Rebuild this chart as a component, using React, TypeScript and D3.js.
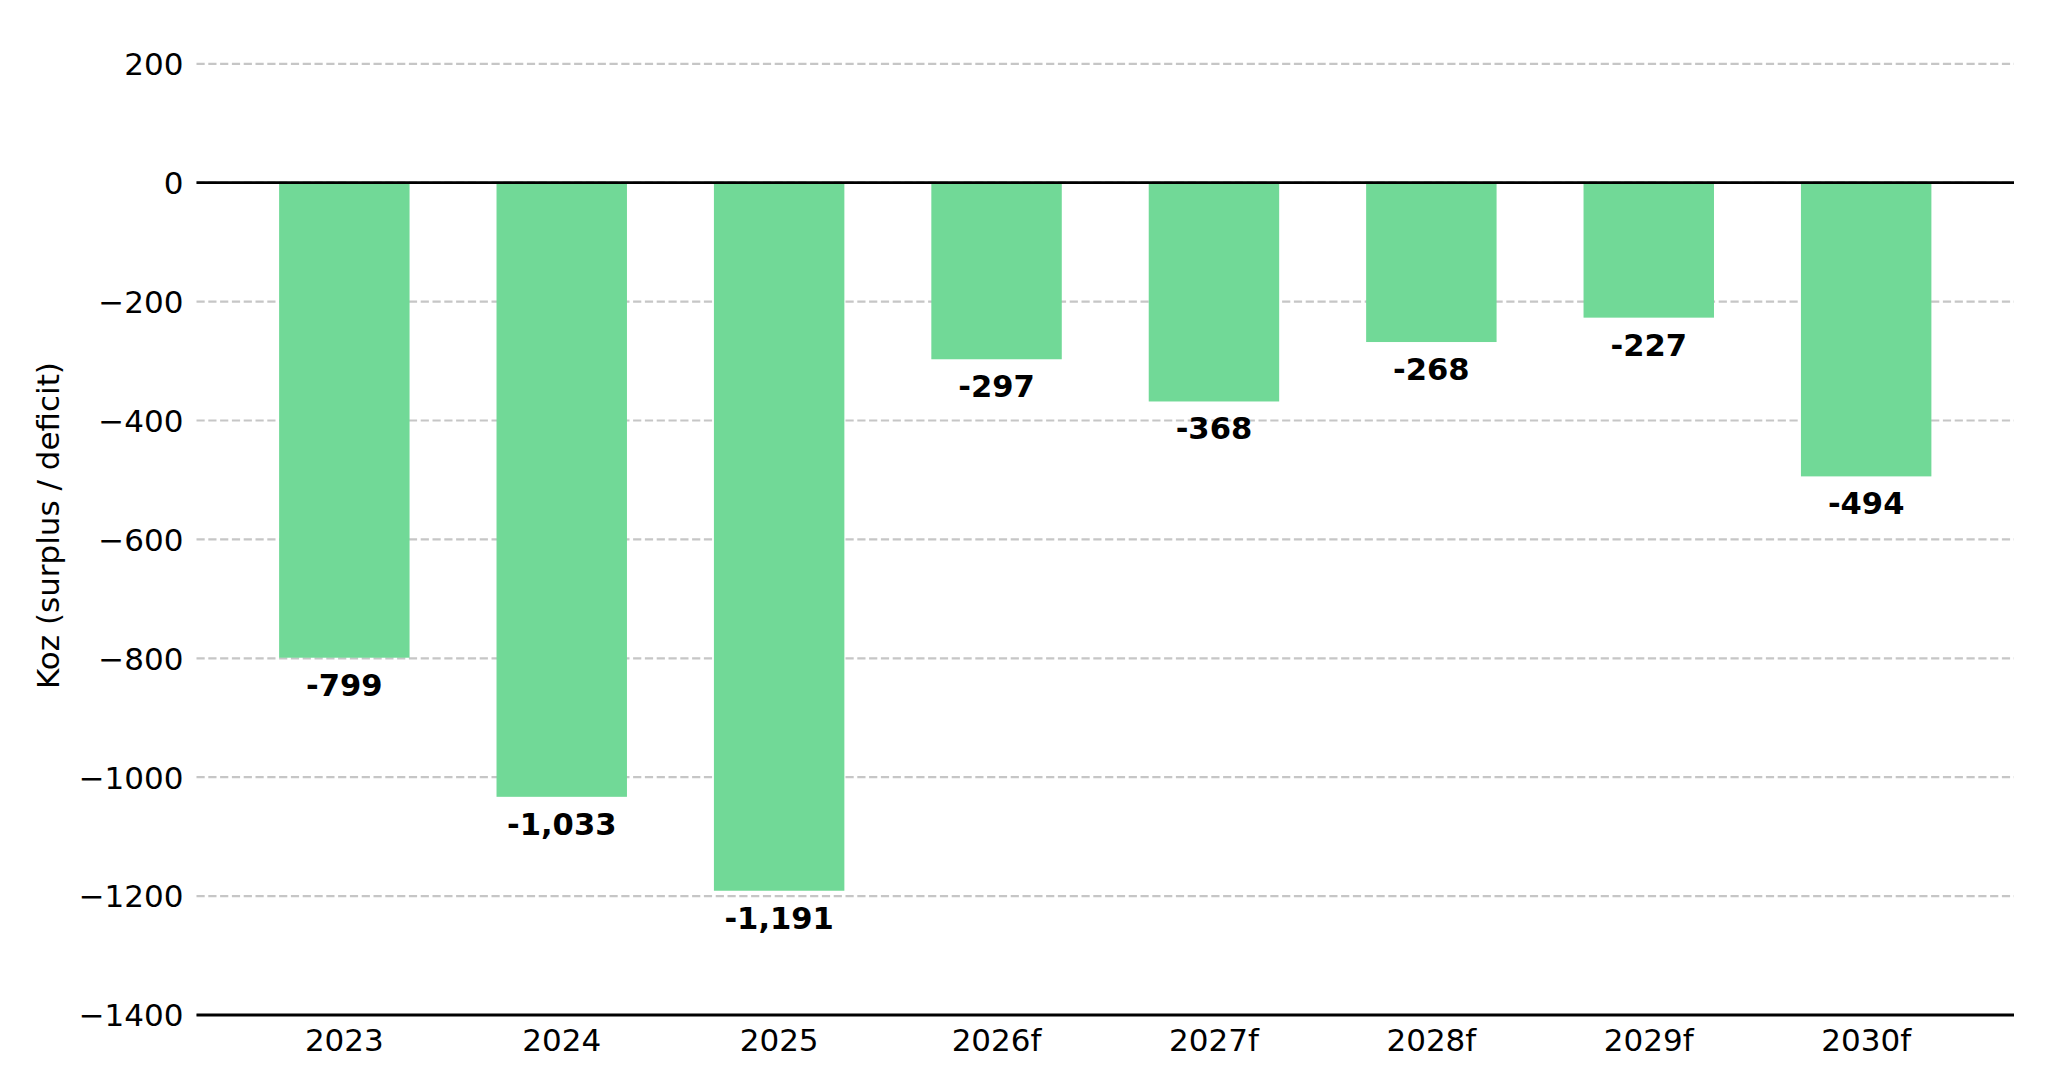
import React from "react";
import * as d3 from "d3";

const categories = ["2023", "2024", "2025", "2026f", "2027f", "2028f", "2029f", "2030f"];
const values = [-799, -1033, -1191, -297, -368, -268, -227, -494];
const yTicks = [200, 0, -200, -400, -600, -800, -1000, -1200, -1400];
const yLabel = "Koz (surplus / deficit)";

const W = 2048;
const H = 1092;
const FONT = "'DejaVu Sans', sans-serif";

export default function App() {
  const plotLeft = 196.5;
  const plotRight = 2014;
  const x = d3.scaleLinear().domain([-0.68, categories.length - 1 + 0.68]).range([plotLeft, plotRight]);
  const y = d3.scaleLinear().domain([0, -1400]).range([182.7, 1015]);
  const barW = x(0.6) - x(0);
  const fmt = d3.format(",");
  const tickFmt = (v: number) => (v < 0 ? "\u2212" + Math.abs(v) : String(v));
  const tickSize = 31;

  return (
    <svg
      width={W}
      height={H}
      viewBox={`0 0 ${W} ${H}`}
      style={{ position: "fixed", left: 0, top: 0, background: "#fff" }}
      fontFamily={FONT}
    >
      <rect x={0} y={0} width={W} height={H} fill="#fff" />
      {/* grid */}
      {yTicks.map((t) => (
        <line
          key={"g" + t}
          x1={plotLeft}
          x2={plotRight}
          y1={y(t)}
          y2={y(t)}
          stroke="#c6c6c6"
          strokeWidth={2.2}
          strokeDasharray="8.2 3.6"
        />
      ))}
      {/* bars */}
      {values.map((v, i) => (
        <rect
          key={"b" + i}
          x={x(i) - barW / 2}
          width={barW}
          y={y(Math.max(0, v))}
          height={Math.abs(y(v) - y(0))}
          fill="#71d997"
        />
      ))}
      {/* zero line */}
      <line x1={plotLeft} x2={plotRight} y1={y(0)} y2={y(0)} stroke="#000" strokeWidth={2.8} />
      {/* bottom spine */}
      <line x1={plotLeft} x2={plotRight} y1={y(-1400)} y2={y(-1400)} stroke="#000" strokeWidth={2.8} />
      {/* value labels */}
      {values.map((v, i) => (
        <text
          key={"l" + i}
          x={x(i)}
          y={y(v) + 38}
          textAnchor="middle"
          fontSize={30.6}
          fontWeight="bold"
          fill="#000"
        >
          {fmt(v).replace("\u2212", "-")}
        </text>
      ))}
      {/* y tick labels */}
      {yTicks.map((t) => (
        <text key={"yt" + t} x={183.5} y={y(t) + 11.3} textAnchor="end" fontSize={tickSize} fill="#000">
          {tickFmt(t)}
        </text>
      ))}
      {/* x tick labels */}
      {categories.map((c, i) => (
        <text key={"xt" + i} x={x(i)} y={1050.5} textAnchor="middle" fontSize={tickSize} fill="#000">
          {c}
        </text>
      ))}
      {/* y axis label */}
      <text
        transform={`translate(59, 525.5) rotate(-90)`}
        textAnchor="middle"
        fontSize={tickSize}
        fill="#000"
      >
        {yLabel}
      </text>
    </svg>
  );
}
